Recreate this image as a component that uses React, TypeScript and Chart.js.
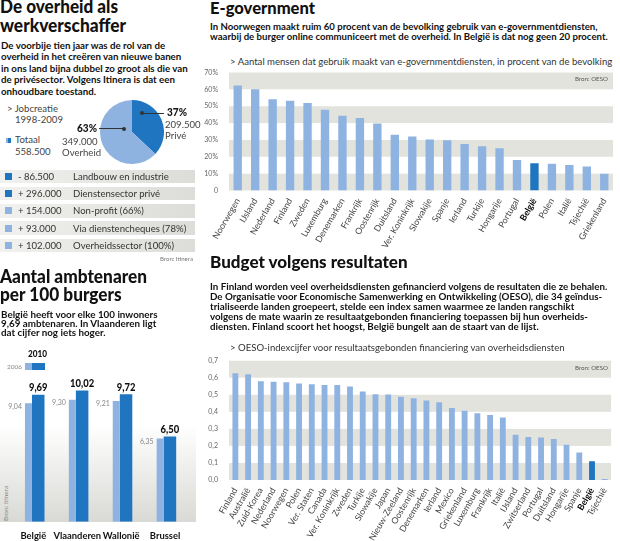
import React, { useEffect, useRef } from "react";
import { Chart, registerables } from "chart.js";
Chart.register(...registerables);

const FONT = "Lato, Roboto, 'Liberation Sans', Arial, sans-serif";
Chart.defaults.font.family = FONT;

const DARK = "#1f75bf";
const LIGHT = "#8fb3e1";
const BAND = "#e3e3de";

// ---------- E-government ----------
const egovCountries = ["Noorwegen", "IJsland", "Nederland", "Finland", "Zweden", "Luxemburg", "Denemarken", "Frankrijk", "Oostenrijk", "Duitsland", "Ver. Koninkrijk", "Slowakije", "Spanje", "Ierland", "Turkije", "Hongarije", "Portugal", "België", "Polen", "Italië", "Tsjechië", "Griekenland"];
const egovValues = [62.3, 60.0, 54.2, 53.3, 51.9, 47.9, 44.4, 43.0, 39.8, 33.1, 32.1, 30.2, 29.8, 27.6, 26.2, 25.0, 18.1, 16.2, 15.8, 15.2, 14.2, 9.9];
const egovTicks = [0, 10, 20, 30, 40, 50, 60, 70];

// ---------- Budget volgens resultaten ----------
const budgetCountries = ["Finland", "Australië", "Zuid-Korea", "Nederland", "Noorwegen", "Polen", "Ver. Staten", "Canada", "Ver. Koninkrijk", "Zweden", "Turkije", "Slowakije", "Japan", "Nieuw-Zeeland", "Oostenrijk", "Denemarken", "Ierland", "Mexico", "Griekenland", "Luxemburg", "Frankrijk", "Italië", "IJsland", "Zwitserland", "Portugal", "Duitsland", "Hongarije", "Spanje", "België", "Tsjechië"];
const budgetValues = [0.626, 0.62, 0.579, 0.577, 0.573, 0.566, 0.562, 0.558, 0.558, 0.548, 0.519, 0.503, 0.501, 0.489, 0.479, 0.466, 0.456, 0.423, 0.407, 0.391, 0.382, 0.366, 0.266, 0.252, 0.249, 0.241, 0.207, 0.162, 0.11, 0.006];
const budgetTicks = [0, 0.1, 0.2, 0.3, 0.4, 0.5, 0.6, 0.7];

// ---------- Ambtenaren per 100 burgers ----------
const regions = ["België", "Vlaanderen", "Wallonië", "Brussel"];
const ambt2006 = [9.04, 9.30, 9.21, 6.35];
const ambt2010 = [9.69, 10.02, 9.72, 6.50];

// ---------- Jobcreatie ----------
const jobLabels = ["Privé", "Overheid"];
const jobShares = [37, 63];
const jobAmounts = ["209.500", "349.000"];

const sectorAmounts = ["- 86.500", "+ 296.000", "+ 154.000", "+ 93.000", "+ 102.000"];
const sectorLabels = ["Landbouw en industrie", "Dienstensector privé", "Non-profit (66%)", "Via dienstencheques (78%)", "Overheidssector (100%)"];
const sectorKind = ["prive", "prive", "overheid", "overheid", "overheid"];

// ---------- helpers ----------
let mctx: CanvasRenderingContext2D | null = null;
function measure(text: string, weight: number, size: number) {
  if (!mctx) mctx = document.createElement("canvas").getContext("2d");
  mctx!.font = `${weight} ${size}px ${FONT}`;
  return mctx!.measureText(text).width;
}

function T(props: { x: number; cy: number; size: number; weight?: number; color?: string; w?: number; s?: number; text: string }) {
  const { x, cy, size, weight = 400, color = "#333", w, s, text } = props;
  const sc = w ? w / measure(text, weight, size) : s ?? 1;
  const lh = size * 1.2;
  return (
    <div
      style={{
        position: "absolute",
        left: x,
        top: cy - lh / 2 - 0.06 * size,
        height: lh,
        lineHeight: `${lh}px`,
        fontSize: size,
        fontWeight: weight,
        fontFamily: FONT,
        color,
        whiteSpace: "pre",
        transform: `scaleX(${sc})`,
        transformOrigin: "0 0",
      }}
    >
      {text}
    </div>
  );
}

function P(props: { x: number; cy0: number; lh: number; size: number; weight?: number; color?: string; lines: string[]; refW: number }) {
  const { x, cy0, lh, size, weight = 700, color = "#111", lines, refW } = props;
  const sc = refW / measure(lines[0], weight, size);
  return (
    <>
      {lines.map((l, i) => (
        <T key={i} x={x} cy={cy0 + i * lh} size={size} weight={weight} color={color} s={sc} text={l} />
      ))}
    </>
  );
}

function ChartBox(props: { x: number; y: number; w: number; h: number; config: () => any }) {
  const ref = useRef<HTMLCanvasElement>(null);
  useEffect(() => {
    const chart = new Chart(ref.current!, props.config());
    return () => chart.destroy();
  }, []);
  return (
    <canvas
      ref={ref}
      width={props.w}
      height={props.h}
      style={{ position: "absolute", left: props.x, top: props.y, width: props.w, height: props.h }}
    />
  );
}

function bandsPlugin(ticks: number[]) {
  return {
    id: "bands",
    beforeDatasetsDraw(chart: any) {
      const { ctx, chartArea, scales } = chart;
      const y = scales.y;
      ctx.save();
      ctx.fillStyle = BAND;
      for (let i = 0; i + 1 < ticks.length; i += 2) {
        const top = y.getPixelForValue(ticks[i + 1]);
        const bottom = y.getPixelForValue(ticks[i]);
        ctx.fillRect(chartArea.left, top, chartArea.right - chartArea.left, bottom - top);
      }
      ctx.restore();
    },
  };
}

function makeBarConfig(labels: string[], values: number[], ticks: number[], fmt: (v: number) => string, padTop: number, xHeight: number, barPct: number) {
  return {
    type: "bar",
    data: {
      labels,
      datasets: [
        {
          data: values,
          backgroundColor: labels.map((l) => (l === "België" ? DARK : LIGHT)),
          categoryPercentage: 1,
          barPercentage: barPct,
        },
      ],
    },
    options: {
      responsive: false,
      animation: false,
      layout: { padding: { top: padTop, right: 7, bottom: 0, left: 0 } },
      plugins: { legend: { display: false }, tooltip: { enabled: false } },
      scales: {
        x: {
          grid: { display: false, drawTicks: false },
          border: { display: false },
          ticks: {
            autoSkip: false,
            minRotation: 60,
            maxRotation: 60,
            padding: 6,
            font: (c: any) => ({ family: FONT, size: 8.8, weight: labels[c.index] === "België" ? "bold" : "normal" }),
            color: (c: any) => (labels[c.index] === "België" ? "#000" : "#444"),
          },
          afterFit: (s: any) => {
            s.height = xHeight;
          },
        },
        y: {
          min: ticks[0],
          max: ticks[ticks.length - 1],
          grid: { display: false },
          border: { display: false },
          ticks: { font: { size: 7, family: FONT }, color: "#666", padding: 3, callback: (v: any) => fmt(Number(v)) },
          afterBuildTicks: (s: any) => {
            s.ticks = ticks.map((v) => ({ value: v }));
          },
          afterFit: (s: any) => {
            s.width = 29;
          },
        },
      },
    },
    plugins: [bandsPlugin(ticks)],
  };
}

const fmtComma = (v: number) => v.toFixed(2).replace(".", ",");

const ambtLabelsPlugin = {
  id: "ambtLabels",
  afterDatasetsDraw(chart: any) {
    const ctx = chart.ctx;
    const m0 = chart.getDatasetMeta(0);
    const m1 = chart.getDatasetMeta(1);
    ctx.save();
    m1.data.forEach((bar: any, i: number) => {
      ctx.save();
      ctx.translate(bar.x, bar.y - 7.5);
      ctx.scale(0.82, 1);
      ctx.font = `900 11.5px ${FONT}`;
      ctx.fillStyle = "#111";
      ctx.textAlign = "center";
      ctx.textBaseline = "middle";
      ctx.fillText(fmtComma(chart.data.datasets[1].data[i]), 0, 0);
      ctx.restore();
    });
    m0.data.forEach((bar: any, i: number) => {
      ctx.font = `7px ${FONT}`;
      ctx.fillStyle = "#888";
      ctx.textAlign = "right";
      ctx.textBaseline = "middle";
      ctx.fillText(fmtComma(chart.data.datasets[0].data[i]), bar.x - bar.width / 2 - 3, bar.y + 3);
    });
    ctx.restore();
  },
};

const ambtConfig = () => ({
  type: "bar",
  data: {
    labels: regions,
    datasets: [
      { label: "2006", data: ambt2006, backgroundColor: LIGHT, categoryPercentage: 0.445, barPercentage: 0.72 },
      { label: "2010", data: ambt2010, backgroundColor: DARK, categoryPercentage: 0.445, barPercentage: 1.28 },
    ],
  },
  options: {
    responsive: false,
    animation: false,
    layout: { padding: { top: 7.6, left: 11.4, right: 13, bottom: 0 } },
    plugins: { legend: { display: false }, tooltip: { enabled: false } },
    scales: {
      x: {
        grid: { display: false, drawTicks: false },
        border: { display: false },
        ticks: { autoSkip: false, maxRotation: 0, padding: 9, font: { size: 9.4, weight: "bold", family: FONT }, color: "#111" },
        afterFit: (s: any) => {
          s.height = 19.3;
        },
      },
      y: { display: false, min: 0, max: 11 },
    },
  },
  plugins: [ambtLabelsPlugin],
});

const pieConfig = () => ({
  type: "pie",
  data: { labels: jobLabels, datasets: [{ data: jobShares, backgroundColor: [DARK, LIGHT], borderWidth: 0 }] },
  options: {
    responsive: false,
    animation: false,
    layout: { padding: 0 },
    plugins: { legend: { display: false }, tooltip: { enabled: false } },
  },
});

export default function App() {
  const regScale = 383 / measure("> Aantal mensen dat gebruik maakt van e-governmentdiensten, in procent van de bevolking", 400, 10);
  return (
    <div style={{ position: "absolute", left: 0, top: 0, width: 620, height: 541, overflow: "hidden", background: "#fff", fontFamily: FONT }}>
      {/* ===== Left column: De overheid als werkverschaffer ===== */}
      <T x={0} cy={8.3} size={18} weight={900} color="#111" w={118} text="De overheid als" />
      <T x={0} cy={26.7} size={18} weight={900} color="#111" w={126} text="werkverschaffer" />
      <P
        x={1}
        cy0={45.7}
        lh={11.5}
        size={10.3}
        refW={165}
        lines={[
          "De voorbije tien jaar was de rol van de",
          "overheid in het creëren van nieuwe banen",
          "in ons land bijna dubbel zo groot als die van",
          "de privésector. Volgens Itinera is dat een",
          "onhoudbare toestand.",
        ]}
      />
      <T x={7} cy={109} size={10} s={regScale} color="#444" text="> Jobcreatie" />
      <T x={15} cy={119.3} size={10} s={regScale} color="#444" text="1998-2009" />
      <div style={{ position: "absolute", left: 6, top: 137.5, width: 2, height: 5, background: LIGHT }} />
      <div style={{ position: "absolute", left: 8, top: 137.5, width: 3, height: 5, background: DARK }} />
      <T x={15} cy={140} size={10} s={regScale} color="#444" text="Totaal" />
      <T x={15} cy={152} size={10} s={regScale} color="#444" text="558.500" />

      <ChartBox x={100} y={100} w={64} h={64} config={pieConfig} />
      <div style={{ position: "absolute", left: 99, top: 128, width: 24, height: 1, background: "#333" }} />
      <div style={{ position: "absolute", left: 121.5, top: 126.5, width: 4, height: 4, borderRadius: 2, background: "#333" }} />
      <div style={{ position: "absolute", left: 141.7, top: 112.5, width: 22, height: 1, background: "#333" }} />
      <div style={{ position: "absolute", left: 140, top: 111, width: 4, height: 4, borderRadius: 2, background: "#333" }} />

      <T x={77} cy={128.3} size={11.5} weight={900} color="#111" w={20} text={`${jobShares[1]}%`} />
      <T x={62} cy={141.7} size={10} s={regScale} color="#444" text={jobAmounts[1]} />
      <T x={62} cy={152.7} size={10} s={regScale} color="#444" text={jobLabels[1]} />
      <T x={167} cy={112.3} size={11.5} weight={900} color="#111" w={20} text={`${jobShares[0]}%`} />
      <T x={165} cy={125} size={10} s={regScale} color="#444" text={jobAmounts[0]} />
      <T x={165} cy={135.7} size={10} s={regScale} color="#444" text={jobLabels[0]} />

      {sectorAmounts.map((a, i) => {
        const top = 169.5 + 17.3 * i;
        return (
          <React.Fragment key={i}>
            <div style={{ position: "absolute", left: 0, top, width: 195, height: 13.5, background: "linear-gradient(to right, #f1f1ef, #dcdcd8)" }} />
            <div style={{ position: "absolute", left: 5, top: top + 3.25, width: 7, height: 7, background: sectorKind[i] === "prive" ? DARK : LIGHT }} />
            <T x={18} cy={top + 6.9} size={10} s={regScale} color="#333" text={a} />
            <T x={73} cy={top + 6.9} size={10} s={regScale} color="#333" text={sectorLabels[i]} />
          </React.Fragment>
        );
      })}
      <T x={160} cy={259} size={6.5} color="#777" w={33} text="Bron: Itinera" />

      {/* ===== Left column: Aantal ambtenaren ===== */}
      <T x={0} cy={278.3} size={18} weight={900} color="#111" w={147} text="Aantal ambtenaren" />
      <T x={0} cy={296.3} size={18} weight={900} color="#111" w={122} text="per 100 burgers" />
      <P
        x={1}
        cy0={314.3}
        lh={9.35}
        size={10}
        refW={157}
        lines={["België heeft voor elke 100 inwoners", "9,69 ambtenaren. In Vlaanderen ligt", "dat cijfer nog iets hoger."]}
      />
      <T x={28} cy={354.3} size={9.5} weight={900} color="#111" w={19} text="2010" />
      <div style={{ position: "absolute", left: 25, top: 363.3, width: 6.7, height: 6.7, background: LIGHT }} />
      <div style={{ position: "absolute", left: 31.7, top: 363.3, width: 13.3, height: 6.7, background: DARK }} />
      <T x={6.7} cy={367.5} size={6.5} color="#888" w={15} text="2006" />
      <div style={{ position: "absolute", left: 0, top: 425, width: 196, height: 97, background: "linear-gradient(to bottom, rgba(225,225,222,0), #d9d9d5)" }} />
      <div
        style={{
          position: "absolute",
          left: 2,
          top: 521,
          fontSize: 6.5,
          lineHeight: "8px",
          color: "#888",
          fontFamily: FONT,
          whiteSpace: "nowrap",
          transform: "rotate(-90deg)",
          transformOrigin: "0 0",
        }}
      >
        Bron: Itinera
      </div>
      <ChartBox x={0} y={370} w={200} h={171} config={ambtConfig} />

      {/* ===== Right column: E-government ===== */}
      <T x={210} cy={9.2} size={17} weight={900} color="#111" w={105} text="E-government" />
      <P
        x={210}
        cy0={27.7}
        lh={9.6}
        size={9.8}
        refW={388}
        lines={[
          "In Noorwegen maakt ruim 60 procent van de bevolking gebruik van e-governmentdiensten,",
          "waarbij de burger online communiceert met de overheid. In België is dat nog geen 20 procent.",
        ]}
      />
      <T x={230} cy={62} size={10} s={regScale} color="#333" text="> Aantal mensen dat gebruik maakt van e-governmentdiensten, in procent van de bevolking" />
      <ChartBox
        x={200}
        y={60}
        w={420}
        h={195}
        config={() => makeBarConfig(egovCountries, egovValues, egovTicks, (v) => (v === 0 ? "0" : `${v}%`), 12.5, 64.5, 0.48)}
      />
      <T x={575} cy={79.3} size={6.5} color="#555" w={33} text="Bron: OESO" />

      {/* ===== Right column: Budget volgens resultaten ===== */}
      <T x={210} cy={263} size={17} weight={900} color="#111" w={198} text="Budget volgens resultaten" />
      <P
        x={210}
        cy0={287.3}
        lh={10.1}
        size={9.8}
        refW={398}
        lines={[
          "In Finland worden veel overheidsdiensten gefinancierd volgens de resultaten die ze behalen.",
          "De Organisatie voor Economische Samenwerking en Ontwikkeling (OESO), die 34 geïndus-",
          "trialiseerde landen groepeert, stelde een index samen waarmee ze landen rangschikt",
          "volgens de mate waarin ze resultaatgebonden financiering toepassen bij hun overheids-",
          "diensten. Finland scoort het hoogst, België bungelt aan de staart van de lijst.",
        ]}
      />
      <T x={230} cy={347.7} size={10} s={regScale} color="#333" text="> OESO-indexcijfer voor resultaatsgebonden financiering van overheidsdiensten" />
      <ChartBox
        x={200}
        y={348}
        w={420}
        h={193}
        config={() => makeBarConfig(budgetCountries, budgetValues, budgetTicks, (v) => v.toFixed(1).replace(".", ","), 12.7, 61, 0.46)}
      />
      <T x={575} cy={368.3} size={6.5} color="#555" w={33} text="Bron: OESO" />
    </div>
  );
}
